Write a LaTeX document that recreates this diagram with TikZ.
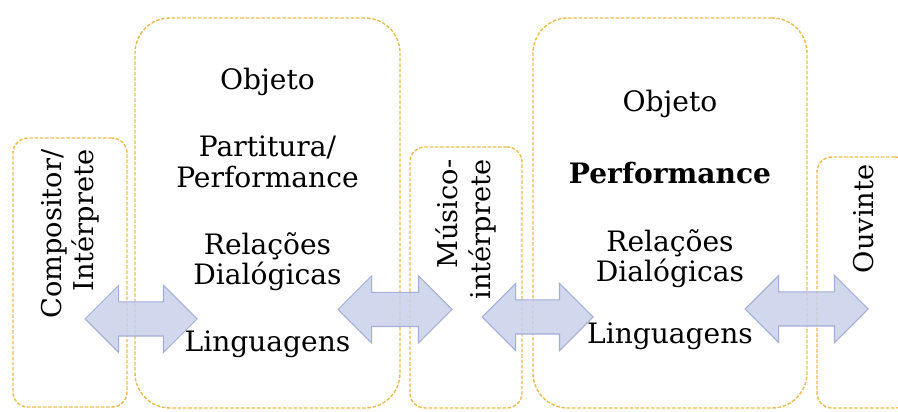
\documentclass[tikz,border=0pt]{standalone}
\usepackage{fontspec}
\setmainfont{DejaVu Serif}
\usepackage{tikz}
\usetikzlibrary{shapes.arrows,calc}
\definecolor{BoxGold}{HTML}{EEBB4C}
\definecolor{ArrowFill}{HTML}{C9D0EB}
\definecolor{ArrowEdge}{HTML}{A3AEDA}

\begin{document}
\begin{tikzpicture}[
    stage/.style={
        draw=BoxGold,
        fill=white,
        line width=0.8pt,
        dash pattern=on 2pt off 1pt,
        rounded corners=7mm,
        minimum width=5.3cm,
        minimum height=7.8cm,
        inner sep=0pt,
    },
    agent/.style={
        stage,
        rounded corners=3mm,
    },
    stagetext/.style={
        align=center,
        inner sep=0pt,
        font=\fontsize{16}{17.6}\selectfont,
    },
    agentlabel/.style={
        rotate=90,
        anchor=east,
        align=right,
        inner sep=0pt,
        font=\fontsize{15.5}{18.5}\selectfont,
    },
    link/.style={
        double arrow,
        draw=ArrowEdge,
        fill=ArrowFill,
        fill opacity=0.85,
        line width=0.6pt,
        minimum height=2.24cm,
        double arrow head extend=0.33cm,
        inner xsep=0pt,
        inner ysep=0.33cm,
    },
]
\clip (0,0) rectangle (17.96,-8.24);

\node[agent,minimum width=2.28cm,minimum height=5.38cm] (comp) at (1.40,-5.45) {};
\node[stage] (objA) at (5.35,-4.26) {};
\node[agent,minimum width=2.24cm,minimum height=5.22cm] (musi) at (9.32,-5.55) {};
\node[stage,minimum width=5.48cm] (objB) at (13.40,-4.26) {};
\node[agent,minimum width=1.86cm,minimum height=5.02cm] (ouvi) at (17.27,-5.65) {};

\node[agentlabel] (compL) at ($(comp.north)+(0,-0.24)$) {Compositor/\\Intérprete};
\node[agentlabel] (musiL) at ($(musi.north)+(0,-0.26)$) {Músico-\\intérprete};
\node[agentlabel] (ouviL) at ($(ouvi.north)+(0,-0.16)$) {Ouvinte};

\node[stagetext] (objAT) at (objA) {%
    Objeto\\[0.72cm]
    Partitura/\\Performance\\[0.72cm]
    Relações\\Dialógicas\\[0.72cm]
    Linguagens};
\node[stagetext,yshift=-0.14cm] (objBT) at (objB) {%
    Objeto\\[0.82cm]
    \textbf{Performance}\\[0.74cm]
    Relações\\Dialógicas\\[0.62cm]
    Linguagens};

% setas duplas entre as etapas
\node[link] (ar1) at (2.82,-6.38) {};
\node[link,minimum height=2.28cm] (ar2) at (7.90,-6.19) {};
\node[link,minimum height=2.22cm] (ar3) at (10.75,-6.34) {};
\node[link,minimum height=2.46cm] (ar4) at (16.13,-6.18) {};
\end{tikzpicture}
\end{document}
